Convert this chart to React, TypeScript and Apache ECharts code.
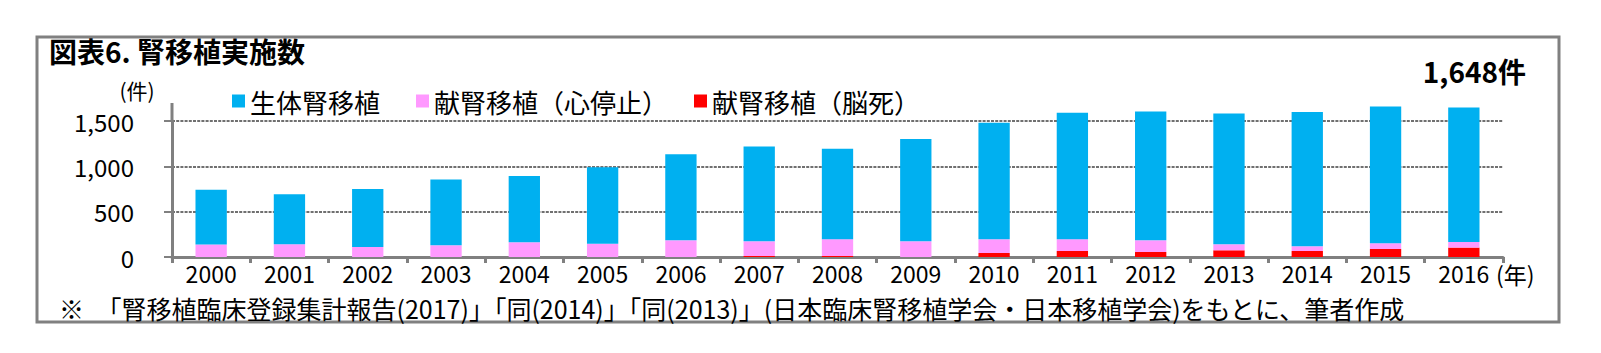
import React, { useEffect, useRef } from 'react';
import * as echarts from 'echarts';

const years = ['2000', '2001', '2002', '2003', '2004', '2005', '2006', '2007', '2008', '2009', '2010', '2011', '2012', '2013', '2014', '2015', '2016'];
const livingDonor = [605, 551, 640, 727, 731, 842, 948, 1047, 1000, 1128, 1286, 1397, 1422, 1444, 1481, 1510, 1482];
const cardiacDeath = [138, 140, 110, 129, 162, 147, 184, 162, 184, 173, 151, 129, 129, 66, 52, 63, 62];
const brainDeath = [0, 0, 0, 0, 0, 0, 0, 11, 11, 0, 44, 66, 55, 74, 66, 88, 104];
const yTicks = [0, 500, 1000, 1500];

const seriesNames = ['生体腎移植', '献腎移植（心停止）', '献腎移植（脳死）'];
const FONT = '"Noto Sans CJK JP", "Noto Sans", sans-serif';

export default function App() {
  const ref = useRef<HTMLDivElement>(null);
  useEffect(() => {
    const chart = echarts.init(ref.current!, null, { renderer: 'svg' });
    const gridLeft = 172;
    const gridTop = 121;
    const legendLefts = [227, 411, 689];
    const legendBase = {
      top: 83,
      icon: 'rect',
      itemWidth: 13,
      itemHeight: 13,
      textStyle: { fontSize: 26, color: '#000', fontFamily: FONT },
    };
    chart.setOption({
      animation: false,
      backgroundColor: '#ffffff',
      textStyle: { fontFamily: FONT },
      legend: seriesNames.map((name, i) => ({ ...legendBase, data: [name], left: legendLefts[i] })),
      grid: { left: gridLeft, right: 98, top: gridTop, bottom: 96, containLabel: false },
      xAxis: {
        type: 'category',
        data: years,
        axisLine: { lineStyle: { color: '#808080', width: 3 } },
        axisTick: { show: true, length: 6, lineStyle: { color: '#808080', width: 3 } },
        axisLabel: { fontSize: 23, lineHeight: 23, color: '#000', margin: 4, fontFamily: FONT },
      },
      yAxis: {
        type: 'value',
        min: 0,
        max: yTicks[yTicks.length - 1],
        interval: 500,
        axisLine: { show: true, lineStyle: { color: '#808080', width: 3 } },
        axisTick: { show: true, length: 8, lineStyle: { color: '#808080', width: 2 } },
        axisLabel: {
          fontSize: 24,
          color: '#000',
          margin: 38,
          fontFamily: FONT,
          formatter: (v: number) => v.toLocaleString('en-US'),
        },
        splitLine: { show: true, lineStyle: { color: '#707070', width: 2, type: [3, 1.2] } },
      },
      series: [
        {
          name: seriesNames[2],
          type: 'bar',
          stack: 'total',
          data: brainDeath,
          barWidth: '40%',
          clip: false,
          itemStyle: { color: '#FF0000' },
        },
        {
          name: seriesNames[1],
          type: 'bar',
          stack: 'total',
          data: cardiacDeath,
          barWidth: '40%',
          clip: false,
          itemStyle: { color: '#FF99FF' },
        },
        {
          name: seriesNames[0],
          type: 'bar',
          stack: 'total',
          data: livingDonor,
          barWidth: '40%',
          clip: false,
          itemStyle: { color: '#00B0F0' },
        },
      ],
      graphic: [
        {
          type: 'rect',
          shape: { x: 37, y: 37, width: 1522, height: 285 },
          style: { fill: 'none', stroke: '#808080', lineWidth: 3 },
          silent: true,
        },
        {
          type: 'line',
          shape: { x1: gridLeft, y1: 103, x2: gridLeft, y2: gridTop },
          style: { stroke: '#808080', lineWidth: 3 },
          silent: true,
        },
        {
          type: 'text',
          x: 49,
          y: 51,
          style: { text: '図表6. 腎移植実施数', font: `bold 28px ${FONT}`, fill: '#000', verticalAlign: 'middle', align: 'left' },
        },
        {
          type: 'text',
          x: 137,
          y: 90,
          style: { text: '(件)', font: `21px ${FONT}`, fill: '#000', verticalAlign: 'middle', align: 'center' },
        },
        {
          type: 'text',
          x: 1526,
          y: 71,
          style: { text: '1,648件', font: `bold 28px ${FONT}`, fill: '#000', verticalAlign: 'middle', align: 'right' },
        },
        {
          type: 'text',
          x: 1496,
          y: 274,
          style: { text: '(年)', font: `23px ${FONT}`, lineHeight: 23, fill: '#000', verticalAlign: 'middle', align: 'left' },
        },
        {
          type: 'text',
          x: 59,
          y: 308,
          style: {
            text: '※　「腎移植臨床登録集計報告(2017)」「同(2014)」「同(2013)」(日本臨床腎移植学会・日本移植学会)をもとに、筆者作成',
            font: `25px ${FONT}`,
            lineHeight: 25,
            fill: '#000',
            verticalAlign: 'middle',
            align: 'left',
          },
        },
      ],
    });
    return () => chart.dispose();
  }, []);
  return (
    <div
      ref={ref}
      style={{ position: 'absolute', left: 0, top: 0, width: 1601, height: 353, background: '#fff' }}
    />
  );
}
